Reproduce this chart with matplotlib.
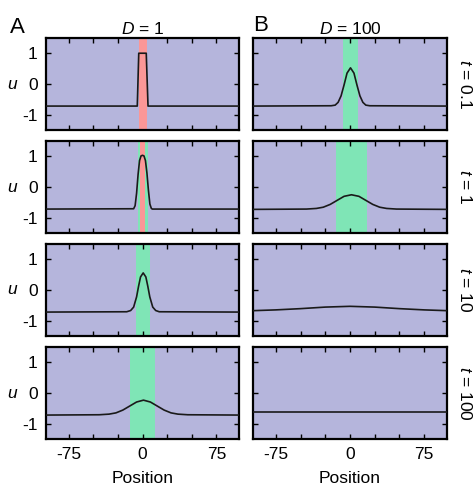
import matplotlib
matplotlib.use("Agg")
import matplotlib.pyplot as plt

plt.rcParams['font.family'] = ['Liberation Sans', 'DejaVu Sans']
plt.rcParams['mathtext.fontset'] = 'custom'
plt.rcParams['mathtext.it'] = 'Liberation Sans:italic'
plt.rcParams['mathtext.rm'] = 'Liberation Sans'

# ---- data ----
columns = ["$D$ = 1", "$D$ = 100"]
panel_letters = ["A", "B"]
row_labels = ["$t$ = 0.1", "$t$ = 1", "$t$ = 10", "$t$ = 100"]
xtick_vals = [-75, -50, -25, 0, 25, 50, 75]
xtick_labels = ["-75", "", "", "0", "", "", "75"]
ytick_vals = [-1, 0, 1]
ytick_labels = ["-1", "0", "1"]

# green (activator) bands [start, end] per panel (col, row); None = absent
green_A = [(-3.7, 5.0), (-5.0, 5.8), (-6.3, 8.1), (-12.2, 12.9)]
green_B = [(-7.0, 8.3), (-14.2, 17.2), None, None]
# red bands
red_A = [(-3.7, 4.1), (-2.7, 2.3), None, None]
red_B = [None, None, None, None]

# curves (position, u)
A1_x = [-98, -5.3, -3.8, 3.8, 5.6, 98]
A1_u = [-0.71, -0.71, 0.99, 0.99, -0.71, -0.71]
A2_x = [-98, -9, -7.5, -6, -4.5, -3, -1.5, 0, 1.5, 3, 4.5, 6, 7.5, 9, 10, 98]
A2_u = [-0.71, -0.70, -0.60, -0.20, 0.40, 0.85, 1.0, 1.02, 1.0, 0.85, 0.45, -0.10, -0.55, -0.69, -0.71, -0.71]
A3_x = [-98, -16, -12, -9, -6, -4, -2, 0.7, 3.4, 5.4, 7.4, 10.4, 13.4, 17, 98]
A3_u = [-0.71, -0.70, -0.66, -0.55, -0.22, 0.12, 0.42, 0.55, 0.42, 0.12, -0.22, -0.55, -0.66, -0.70, -0.71]
A4_x = [-98, -44, -34, -27, -20, -13, -6, 1, 8, 15, 22, 29, 36, 46, 98]
A4_u = [-0.71, -0.70, -0.68, -0.64, -0.55, -0.42, -0.29, -0.23, -0.29, -0.42, -0.55, -0.64, -0.68, -0.70, -0.71]
B1_x = [-98, -19, -15, -12, -9, -6, -3, 0.5, 4, 7, 10, 13, 16, 20, 98]
B1_u = [-0.71, -0.70, -0.68, -0.59, -0.38, -0.03, 0.35, 0.52, 0.35, -0.03, -0.38, -0.59, -0.68, -0.70, -0.71]
B2_x = [-98, -44, -34, -27, -20, -13, -6, 1.5, 9, 16, 23, 30, 37, 47, 98]
B2_u = [-0.72, -0.71, -0.69, -0.65, -0.56, -0.43, -0.30, -0.25, -0.30, -0.43, -0.56, -0.65, -0.69, -0.71, -0.72]
B3_x = [-98, -75, -50, -25, 0, 25, 50, 75, 98]
B3_u = [-0.665, -0.64, -0.60, -0.55, -0.525, -0.55, -0.60, -0.64, -0.665]
B4_x = [-98, 98]
B4_u = [-0.61, -0.61]

curves = [[(A1_x, A1_u), (A2_x, A2_u), (A3_x, A3_u), (A4_x, A4_u)],
          [(B1_x, B1_u), (B2_x, B2_u), (B3_x, B3_u), (B4_x, B4_u)]]
greens = [green_A, green_B]
reds = [red_A, red_B]

# ---- style ----
bg = "#b5b5dc"
green_c = "#7fe5b6"
red_c = "#fb9797"
W, H = 473, 490
fig = plt.figure(figsize=(W / 100, H / 100), dpi=100)

col_x = [46, 253]
col_w = [193, 194]
row_top = [38, 141, 244, 347]
row_h = 92
fs = 12.5

for c in range(2):
    for r in range(4):
        ax = fig.add_axes([col_x[c] / W, 1 - (row_top[r] + row_h) / H, col_w[c] / W, row_h / H])
        ax.set_facecolor(bg)
        ax.set_xlim(-98, 98)
        ax.set_ylim(-1.48, 1.48)
        g = greens[c][r]
        if g is not None:
            ax.axvspan(g[0], g[1], color=green_c, lw=0, zorder=1)
        rd = reds[c][r]
        if rd is not None:
            ax.axvspan(rd[0], rd[1], color=red_c, lw=0, zorder=2)
        x, u = curves[c][r]
        ax.plot(x, u, color="#1a1a1a", lw=1.2, zorder=3)
        for s in ax.spines.values():
            s.set_linewidth(1.6)
        ax.set_xticks(xtick_vals)
        ax.set_yticks(ytick_vals)
        ax.tick_params(direction="in", length=3.5, width=1, top=True, right=True,
                       labelsize=fs, pad=6)
        if r == 3:
            ax.set_xticklabels(xtick_labels)
            ax.set_xlabel("Position", fontsize=fs, labelpad=6)
        else:
            ax.set_xticklabels([])
        if c == 0:
            ax.set_yticklabels(ytick_labels)
            fig.text(13 / W, 1 - (row_top[r] + row_h / 2) / H, "$u$", fontsize=fs,
                     ha="center", va="center")
        else:
            ax.set_yticklabels([])
            ax.text(1.05, 0.5, row_labels[r], transform=ax.transAxes, rotation=-90,
                    ha="left", va="center", fontsize=fs)
        if r == 0:
            ax.set_title(columns[c], fontsize=fs, pad=3)

fig.text(10 / W, 1 - 33 / H, panel_letters[0], fontsize=16, ha="left", va="baseline")
fig.text(253 / W, 1 - 31 / H, panel_letters[1], fontsize=16, ha="left", va="baseline")

fig.savefig("out.png", dpi=100)
